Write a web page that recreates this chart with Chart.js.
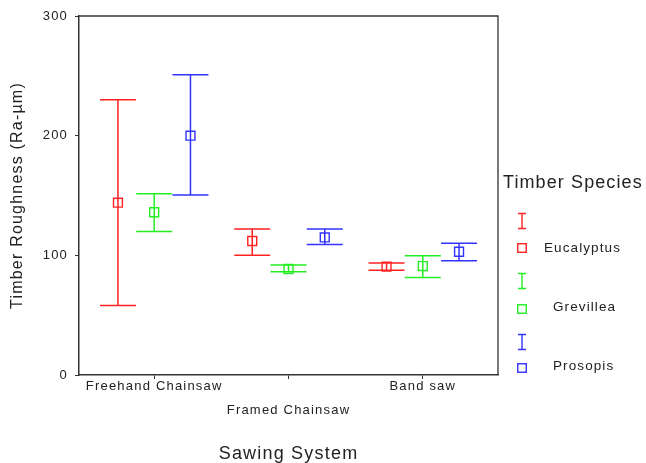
<!DOCTYPE html>
<html>
<head>
<meta charset="utf-8">
<script src="https://cdn.jsdelivr.net/npm/chart.js@4"></script>
<style>
  body { margin: 0; background: #fff; }
  #wrap { position: relative; width: 646px; height: 463px; }
  .lg { position: absolute; font-family: "Liberation Sans", Arial, sans-serif; color: #222; white-space: nowrap; }
  .lg-title { font-size: 18px; letter-spacing: 1.1px; }
  .lg-text { font-size: 13.5px; letter-spacing: 1.1px; }
  .lg svg { display: block; }
</style>
</head>
<body>
<div id="wrap">
  <canvas id="myChart" width="646" height="463"></canvas>
  <div class="lg lg-title" style="left:503px; top:172px;">Timber Species</div>

  <div class="lg" style="left:517px; top:212px;"><svg width="10" height="18"><path d="M1 1.5H9M5 1.5V16.5M1 16.5H9" stroke="#ff2222" stroke-width="1.4" fill="none"/></svg></div>
  <div class="lg" style="left:517px; top:243px;"><svg width="10" height="10"><rect x="0.75" y="0.75" width="8.5" height="8.5" stroke="#ff2222" stroke-width="1.4" fill="none"/></svg></div>
  <div class="lg lg-text" style="left:544px; top:240px;">Eucalyptus</div>

  <div class="lg" style="left:517px; top:272px;"><svg width="10" height="18"><path d="M1 1.5H9M5 1.5V16.5M1 16.5H9" stroke="#22ee22" stroke-width="1.4" fill="none"/></svg></div>
  <div class="lg" style="left:517px; top:304px;"><svg width="10" height="10"><rect x="0.75" y="0.75" width="8.5" height="8.5" stroke="#22ee22" stroke-width="1.4" fill="none"/></svg></div>
  <div class="lg lg-text" style="left:553px; top:299px;">Grevillea</div>

  <div class="lg" style="left:517px; top:333px;"><svg width="10" height="18"><path d="M1 1.5H9M5 1.5V16.5M1 16.5H9" stroke="#3333ff" stroke-width="1.4" fill="none"/></svg></div>
  <div class="lg" style="left:517px; top:363px;"><svg width="10" height="10"><rect x="0.75" y="0.75" width="8.5" height="8.5" stroke="#3333ff" stroke-width="1.4" fill="none"/></svg></div>
  <div class="lg lg-text" style="left:553px; top:358px;">Prosopis</div>
</div>
<script>
// sawing systems on the x axis
const categories = ['Freehand Chainsaw', 'Framed Chainsaw', 'Band saw'];
const yTicks = [0, 100, 200, 300];

// means and error bar ends, one value per sawing system
const eucalyptusMean = [144, 112, 90.5];
const eucalyptusLow = [58, 100, 87.5];
const eucalyptusHigh = [230, 122, 93.5];

const grevilleaMean = [136, 88.6, 91];
const grevilleaLow = [120, 86.3, 81.5];
const grevilleaHigh = [151.5, 92, 99.7];

const prosopisMean = [200, 115, 103];
const prosopisLow = [150.5, 109, 95.5];
const prosopisHigh = [251, 122, 110];

const capHalf = 0.134;   // half cap width, x units
const shifts = [-0.27, 0, 0.27];

function barPoints(low, high, shift) {
  const pts = [];
  low.forEach((lo, i) => {
    const x = i + 1 + shift;
    const hi = high[i];
    pts.push({x: x, y: lo}, {x: x, y: hi}, {x: x, y: null});
    pts.push({x: x - capHalf, y: hi}, {x: x + capHalf, y: hi}, {x: x, y: null});
    pts.push({x: x - capHalf, y: lo}, {x: x + capHalf, y: lo}, {x: x, y: null});
  });
  return pts;
}

function meanPoints(mean, shift) {
  return mean.map((m, i) => ({x: i + 1 + shift, y: m}));
}

const series = [
  {mean: eucalyptusMean, low: eucalyptusLow, high: eucalyptusHigh, color: '#ff2222'},
  {mean: grevilleaMean, low: grevilleaLow, high: grevilleaHigh, color: '#22ee22'},
  {mean: prosopisMean, low: prosopisLow, high: prosopisHigh, color: '#3333ff'}
];

const datasets = [];
series.forEach((s, k) => {
  datasets.push({
    data: barPoints(s.low, s.high, shifts[k]),
    borderColor: s.color,
    borderWidth: 1.5,
    pointRadius: 0,
    spanGaps: false,
    fill: false
  });
  datasets.push({
    data: meanPoints(s.mean, shifts[k]),
    showLine: false,
    pointStyle: 'rect',
    pointRadius: 6.3,
    pointBorderWidth: 1.4,
    pointBorderColor: s.color,
    pointBackgroundColor: 'rgba(0,0,0,0)'
  });
});

// SPSS style text is spaced out a bit
const spacingPlugin = {
  id: 'spacing',
  beforeLayout(chart) { chart.ctx.letterSpacing = '1.2px'; },
  beforeDraw(chart) { chart.ctx.letterSpacing = '1.2px'; }
};

// top and right sides of the plot box
const framePlugin = {
  id: 'frame',
  beforeDatasetsDraw(chart) {
    const {ctx, chartArea: a} = chart;
    ctx.save();
    ctx.strokeStyle = '#333';
    ctx.lineWidth = 1.3;
    ctx.beginPath();
    ctx.moveTo(a.left, a.top);
    ctx.lineTo(a.right, a.top);
    ctx.lineTo(a.right, a.bottom);
    ctx.stroke();
    ctx.restore();
  }
};

const fontFamily = '"Liberation Sans", Arial, sans-serif';

new Chart(document.getElementById('myChart'), {
  type: 'line',
  data: { datasets: datasets },
  plugins: [spacingPlugin, framePlugin],
  options: {
    responsive: false,
    animation: false,
    devicePixelRatio: 1,
    layout: { padding: { left: 0, right: 148, top: 16, bottom: 0 } },
    plugins: {
      legend: { display: false },
      tooltip: { enabled: false }
    },
    scales: {
      x: {
        type: 'linear',
        position: 'bottom',
        min: 0.44,
        max: 3.56,
        afterBuildTicks: (scale) => {
          scale.ticks = categories.map((c, i) => ({value: i + 1}));
        },
        afterFit: (scale) => { scale.height = 88; },
        ticks: {
          autoSkip: false,
          maxRotation: 0,
          padding: -4,
          color: '#222',
          font: { family: fontFamily, size: 13, lineHeight: 1.8 },
          callback: (v) => {
            const i = Math.round(v) - 1;
            return i === 1 ? ['', categories[i]] : categories[i];
          }
        },
        grid: { display: true, drawOnChartArea: false, drawTicks: true, tickLength: 4, color: '#333' },
        border: { display: true, color: '#333', width: 1.5 },
        title: {
          display: true,
          text: 'Sawing System',
          color: '#222',
          font: { family: fontFamily, size: 18, lineHeight: 1 },
          padding: { top: 0, bottom: 0 }
        }
      },
      y: {
        min: 0,
        max: 300,
        afterBuildTicks: (scale) => {
          scale.ticks = yTicks.map(v => ({value: v}));
        },
        afterFit: (scale) => { scale.width = 79; },
        ticks: {
          padding: 7,
          color: '#222',
          font: { family: fontFamily, size: 13 }
        },
        grid: { display: true, drawOnChartArea: false, drawTicks: true, tickLength: 4, color: '#333' },
        border: { display: true, color: '#333', width: 1.5 },
        title: {
          display: true,
          text: 'Timber Roughness (Ra-µm)',
          color: '#222',
          font: { family: fontFamily, size: 16, lineHeight: 1.2 },
          padding: { top: 8, bottom: 0 }
        }
      }
    }
  }
});
</script>
</body>
</html>
